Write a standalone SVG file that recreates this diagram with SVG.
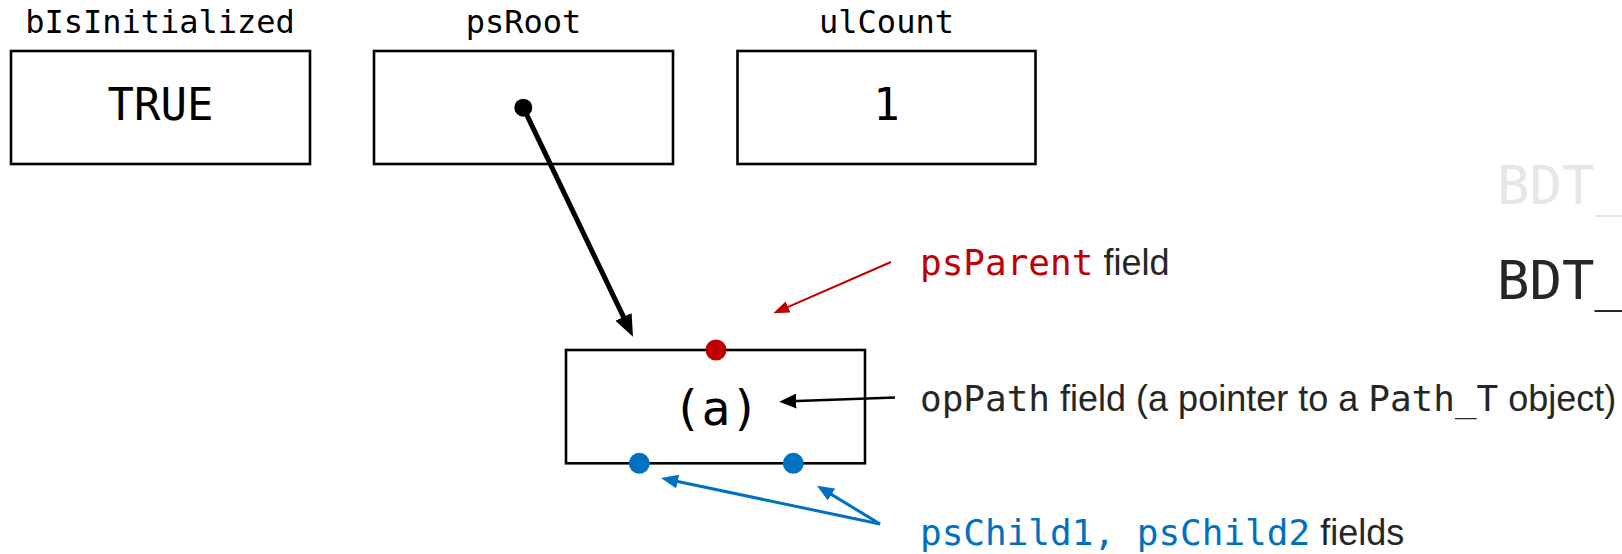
<svg xmlns="http://www.w3.org/2000/svg" width="1622" height="554" viewBox="0 0 1622 554">
<style>
.box{fill:#fff;stroke:#000;stroke-width:2.6}
.mono{font-family:"DejaVu Sans Mono","Liberation Mono",monospace}
.sans{font-family:"Liberation Sans",Arial,sans-serif}
.lbl{font-size:32px;fill:#000;text-anchor:middle}
.val{font-size:44px;fill:#000;text-anchor:middle}
.note{font-size:36px;fill:#262626}
.red{fill:#c00000}
.blue{fill:#0070c0}
</style>
<defs>
<marker id="ahBig" markerUnits="userSpaceOnUse" markerWidth="22" markerHeight="18" refX="10" refY="9" orient="auto"><path d="M0,0 L22,9 L0,18 z" fill="#000"/></marker>
<marker id="ahBlack" markerUnits="userSpaceOnUse" markerWidth="17" markerHeight="15" refX="6" refY="7.5" orient="auto"><path d="M0,0 L17,7.5 L0,15 z" fill="#000"/></marker>
<marker id="ahRed" markerUnits="userSpaceOnUse" markerWidth="16" markerHeight="12" refX="6" refY="6" orient="auto"><path d="M0,0 L16,6 L0,12 z" fill="#c00000"/></marker>
<marker id="ahBlue" markerUnits="userSpaceOnUse" markerWidth="17" markerHeight="14" refX="6" refY="7" orient="auto"><path d="M0,0 L17,7 L0,14 z" fill="#0070c0"/></marker>
</defs>
<rect width="1622" height="554" fill="#fff"/>

<g id="bIsInitialized">
<text class="mono lbl" x="160" y="33">bIsInitialized</text>
<rect class="box" x="11" y="51" width="299" height="113"/>
<text class="mono val" x="160.5" y="120">TRUE</text>
</g>

<g id="psRoot">
<text class="mono lbl" x="523.5" y="33">psRoot</text>
<rect class="box" x="374" y="51" width="299" height="113"/>
</g>

<g id="ulCount">
<text class="mono lbl" x="886.5" y="33">ulCount</text>
<rect class="box" x="737.5" y="51" width="298" height="113"/>
<text class="mono val" x="886.5" y="120">1</text>
</g>

<g id="nodeA">
<rect class="box" x="566" y="350" width="299" height="113.3"/>
<text class="mono" x="716" y="425" font-size="48" fill="#000" text-anchor="middle">(a)</text>
<circle cx="716" cy="350" r="10.5" fill="#c00000"/>
<circle cx="639.3" cy="463.3" r="10.5" fill="#0070c0"/>
<circle cx="793.3" cy="463.3" r="10.5" fill="#0070c0"/>
</g>

<g id="bdt">
<text class="mono" x="1497" y="203.5" font-size="54" fill="#e6e6e6">BDT_</text>
<text class="mono" x="1497" y="298.5" font-size="54" fill="#262626">BDT_</text>
</g>

<g id="labels">
<text class="note" x="920" y="275"><tspan class="mono red">psParent</tspan><tspan class="sans"> field</tspan></text>
<text class="note" x="920" y="411"><tspan class="mono">opPath</tspan><tspan class="sans"> field (a pointer to a </tspan><tspan class="mono">Path_T</tspan><tspan class="sans"> object)</tspan></text>
<text class="note" x="920" y="545"><tspan class="mono blue">psChild1, psChild2</tspan><tspan class="sans"> fields</tspan></text>
</g>

<g id="connectors" fill="none">
<circle cx="523.3" cy="107.7" r="9" fill="#000"/>
<line x1="523.3" y1="107.7" x2="627.8" y2="325.9" stroke="#000" stroke-width="5" marker-end="url(#ahBig)"/>
<line x1="891" y1="262" x2="782.5" y2="309.3" stroke="#c00000" stroke-width="2" marker-end="url(#ahRed)"/>
<line x1="895" y1="397.5" x2="790.3" y2="401.3" stroke="#000" stroke-width="2.5" marker-end="url(#ahBlack)"/>
<line x1="880" y1="524" x2="671.8" y2="480.3" stroke="#0070c0" stroke-width="3" marker-end="url(#ahBlue)"/>
<line x1="880" y1="524" x2="826.4" y2="491.4" stroke="#0070c0" stroke-width="3" marker-end="url(#ahBlue)"/>
</g>
</svg>
